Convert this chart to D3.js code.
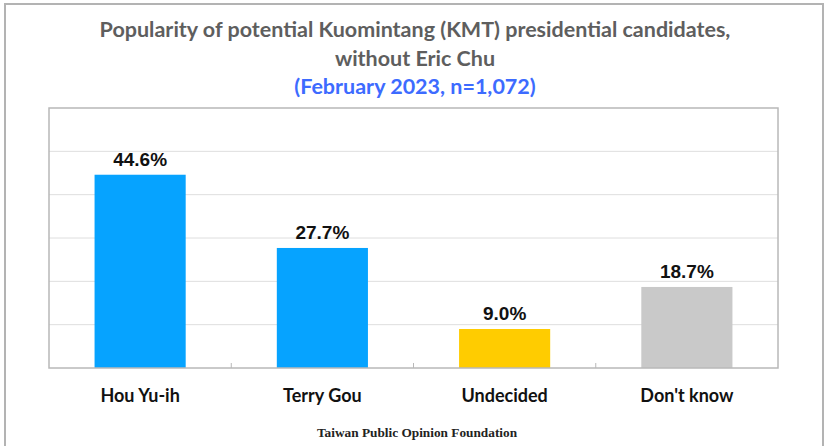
<!DOCTYPE html>
<html lang="en">
<head>
<meta charset="utf-8">
<title>KMT candidates</title>
<script src="https://cdnjs.cloudflare.com/ajax/libs/d3/7.8.5/d3.min.js"></script>
<style>
  body { margin: 0; background: #fff; }
  svg { display: block; }
</style>
</head>
<body>
<div id="chart"></div>
<script>
const categories = ["Hou Yu-ih", "Terry Gou", "Undecided", "Don't know"];
const values = [44.6, 27.7, 9.0, 18.7];
const barColors = ["#06a3ff", "#06a3ff", "#ffcc00", "#c9c9c9"];
const gridTicks = [0, 10, 20, 30, 40, 50, 60];
const titleLines = ["Popularity of potential Kuomintang (KMT) presidential candidates,", "without Eric Chu"];
const subtitle = "(February 2023, n=1,072)";
const source = "Taiwan Public Opinion Foundation";

const width = 826, height = 446;
const plotLeft = 49, plotRight = 778, plotTop = 108, plotBottom = 368;

const svg = d3.select("#chart").append("svg")
  .attr("width", width).attr("height", height);

// outer frame
svg.append("rect")
  .attr("x", 5).attr("y", 4)
  .attr("width", 818).attr("height", 460)
  .attr("fill", "none").attr("stroke", "#b3b3b3").attr("stroke-width", 2);

const x = d3.scaleBand().domain(categories).range([plotLeft, plotRight]).paddingInner(0).paddingOuter(0);
const y = d3.scaleLinear().domain([0, 60]).range([plotBottom, plotTop]);

// gridlines
svg.append("g")
  .selectAll("line")
  .data(gridTicks.slice(1, -1))
  .join("line")
    .attr("x1", plotLeft).attr("x2", plotRight)
    .attr("y1", d => y(d)).attr("y2", d => y(d))
    .attr("stroke", "#dedede").attr("stroke-width", 1);

// bars
const barW = x.bandwidth() * 0.5;
svg.append("g")
  .selectAll("rect")
  .data(values)
  .join("rect")
    .attr("x", (d, i) => x(categories[i]) + (x.bandwidth() - barW) / 2)
    .attr("y", d => y(d))
    .attr("width", barW)
    .attr("height", d => y(0) - y(d))
    .attr("fill", (d, i) => barColors[i]);

// plot frame
svg.append("rect")
  .attr("x", plotLeft).attr("y", plotTop)
  .attr("width", plotRight - plotLeft).attr("height", plotBottom - plotTop)
  .attr("fill", "none").attr("stroke", "#b8b8b8").attr("stroke-width", 1.5);

// category separators on the bottom axis
svg.append("g")
  .selectAll("line")
  .data(categories.slice(1))
  .join("line")
    .attr("x1", d => x(d)).attr("x2", d => x(d))
    .attr("y1", plotBottom - 5).attr("y2", plotBottom)
    .attr("stroke", "#b8b8b8").attr("stroke-width", 1);

// value labels
svg.append("g")
  .selectAll("text")
  .data(values)
  .join("text")
    .attr("x", (d, i) => x(categories[i]) + x.bandwidth() / 2)
    .attr("y", d => y(d) - 9)
    .attr("text-anchor", "middle")
    .attr("font-family", "Liberation Sans, Arial, sans-serif")
    .attr("font-weight", "bold")
    .attr("font-size", 19)
    .attr("fill", "#111")
    .text(d => d.toFixed(1) + "%");

// category labels
svg.append("g")
  .selectAll("text")
  .data(categories)
  .join("text")
    .attr("x", d => x(d) + x.bandwidth() / 2)
    .attr("y", 402)
    .attr("text-anchor", "middle")
    .attr("font-family", "Lato, sans-serif")
    .attr("font-weight", "bold")
    .attr("font-size", 18)
    .attr("fill", "#111")
    .text(d => d);

// title
svg.append("g")
  .selectAll("text")
  .data(titleLines)
  .join("text")
    .attr("x", 415)
    .attr("y", (d, i) => 37 + i * 29)
    .attr("text-anchor", "middle")
    .attr("font-family", "Lato, sans-serif")
    .attr("font-weight", "bold")
    .attr("font-size", 21.5)
    .attr("fill", "#5e5e5e")
    .text(d => d);

svg.append("text")
  .attr("x", 415).attr("y", 94)
  .attr("text-anchor", "middle")
  .attr("font-family", "Lato, sans-serif")
  .attr("font-weight", "bold")
  .attr("font-size", 21.5)
  .attr("fill", "#3d6bff")
  .text(subtitle);

svg.append("text")
  .attr("x", 417).attr("y", 437)
  .attr("text-anchor", "middle")
  .attr("font-family", "Liberation Serif, Times New Roman, serif")
  .attr("font-weight", "bold")
  .attr("font-size", 13.3)
  .attr("fill", "#222")
  .text(source);
</script>
</body>
</html>
